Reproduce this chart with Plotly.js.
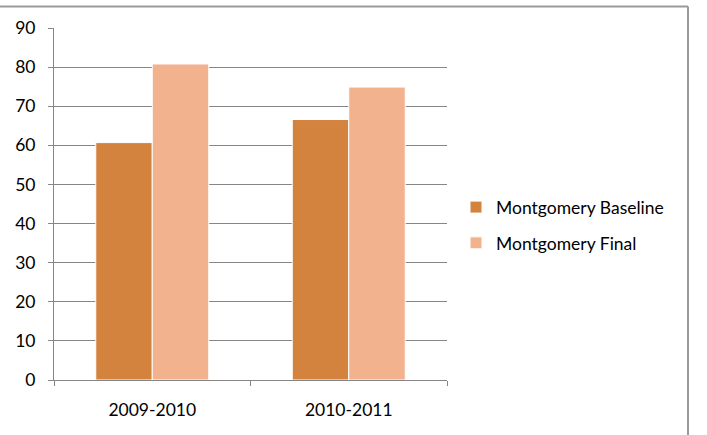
<!DOCTYPE html>
<html><head><meta charset="utf-8">
<script src="https://cdn.plot.ly/plotly-3.0.1.min.js"></script>
<style>html,body{margin:0;padding:0;background:#fff}#chart{width:707px;height:435px}</style>
</head><body><div id="chart"></div>
<script>
const categories = ["2009-2010", "2010-2011"];
const seriesNames = ["Montgomery Baseline", "Montgomery Final"];
const baselineValues = [60.7, 66.6];
const finalValues = [80.8, 74.9];
const yTickValues = [0, 10, 20, 30, 40, 50, 60, 70, 80, 90];

const colors = ["#D4833F", "#F2B28E"];
const fontFam = "Lato, 'Open Sans', sans-serif";
const fs = 17.5;

const traces = [baselineValues, finalValues].map((vals, i) => ({
  type: "bar",
  name: seriesNames[i],
  x: categories,
  y: vals,
  marker: {color: colors[i], line: {color: "#ffffff", width: 1}},
  legendgroup: "g" + i,
  hoverinfo: "skip"
}));

const L = 54, R = 447, T = 27.5, B = 380;
const W = R - L, H = B - T;
const px = v => (v - L) / W;
const py = v => (B - v) / H;

const layout = {
  width: 707, height: 435,
  margin: {l: L, r: 707 - R, t: T, b: 435 - B, pad: 0},
  paper_bgcolor: "#ffffff", plot_bgcolor: "#ffffff",
  font: {family: fontFam, size: fs, color: "#000"},
  barmode: "group",
  bargap: 0.425,
  bargroupgap: 0,
  showlegend: true,
  legend: {
    x: px(456), xanchor: "left", y: py(225), yanchor: "middle",
    traceorder: "grouped", tracegroupgap: 10,
    font: {family: fontFam, size: fs, color: "#000"},
    itemwidth: 30, bgcolor: "rgba(0,0,0,0)"
  },
  xaxis: {
    type: "category",
    showline: true, linecolor: "#868686", linewidth: 1,
    ticks: "outside", tickson: "boundaries", ticklen: 5, tickcolor: "#868686",
    showgrid: false, zeroline: false,
    tickfont: {family: fontFam, size: fs, color: "#000"},
    ticklabelstandoff: 14
  },
  yaxis: {
    range: [0, 90], tickvals: yTickValues,
    showline: true, linecolor: "#868686", linewidth: 1,
    ticks: "outside", ticklen: 5, tickcolor: "#868686",
    showgrid: true, gridcolor: "#868686", gridwidth: 1,
    zeroline: false,
    tickfont: {family: fontFam, size: fs, color: "#000"},
    ticklabelstandoff: 9
  },
  shapes: [
    {type: "line", xref: "paper", yref: "paper", x0: px(-2), x1: px(688), y0: py(6), y1: py(6), line: {color: "#9a9a9a", width: 2}},
    {type: "line", xref: "paper", yref: "paper", x0: px(688), x1: px(688), y0: py(6), y1: py(440), line: {color: "#9a9a9a", width: 2}}
  ]
};

Plotly.newPlot("chart", traces, layout, {staticPlot: true, displayModeBar: false});
</script></body></html>
